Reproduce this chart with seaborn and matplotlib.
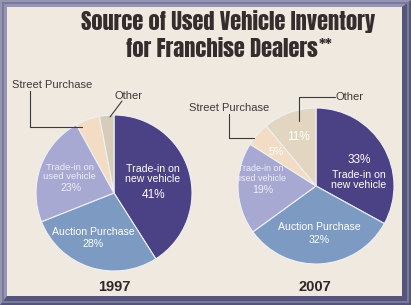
import matplotlib
matplotlib.use("Agg")
import matplotlib.pyplot as plt
import seaborn as sns
from matplotlib.patches import Rectangle, Polygon

sns.set_theme(style="white")
plt.rcParams['font.family'] = ['Liberation Sans', 'DejaVu Sans']

# ---- data ----
categories = ["Trade-in on\nnew vehicle", "Auction Purchase", "Trade-in on\nused vehicle",
              "Street Purchase", "Other"]
values_1997 = [41, 28, 23, 5, 3]
values_2007 = [33, 32, 19, 5, 11]
years = ["1997", "2007"]
title_lines = ["Source of Used Vehicle Inventory", "for Franchise Dealers"]

colors_1997 = ["#4b4185", "#7d9bc2", "#a8a9d3", "#f2dcc4", "#d6ccb8"]
colors_2007 = ["#4b4185", "#7d9bc2", "#a8a9d3", "#f2dcc4", "#e2d6c0"]

W, H = 411, 305
fig = plt.figure(figsize=(W / 100, H / 100), dpi=100)
fig.patch.set_facecolor("#6b6b8f")

ax = fig.add_axes([0, 0, 1, 1])
ax.set_xlim(0, W)
ax.set_ylim(0, H)
ax.set_aspect("equal")
ax.axis("off")

def Y(y):
    return H - y

# ---- frame ----
ax.add_patch(Rectangle((0, 0), W, H, facecolor="#55557c", edgecolor="none", zorder=0))
ax.add_patch(Polygon([(0, 0), (0, H), (W, H), (W - 9, Y(7)), (7, Y(7)), (7, 9)],
                     closed=True, facecolor="#9696b4", edgecolor="none", zorder=0.5))
ax.add_patch(Rectangle((3, 3), W - 6, H - 6, facecolor="none", edgecolor="#7a7a9c",
                       linewidth=1.5, zorder=0.6))
ax.add_patch(Rectangle((7, 9), W - 16, H - 16, facecolor="#f0e9e0", edgecolor="none", zorder=0.7))

# ---- title ----
tfont = ["Anton", "DejaVu Sans"]
tcol = "#332d2e"
ax.text(228.5, Y(22), title_lines[0], ha="center", va="center", fontsize=16.2,
        family=tfont, color=tcol, zorder=5)
t2 = ax.text(221.5, Y(49), title_lines[1], ha="center", va="center", fontsize=16.2,
             family=tfont, color=tcol, zorder=5)
fig.canvas.draw()
bb = t2.get_window_extent(renderer=fig.canvas.get_renderer())
x_end = bb.x1
ax.text(x_end + 1.5, Y(44), "**", ha="left", va="center", fontsize=11,
        family=tfont, color=tcol, zorder=5)

# ---- pies ----
wp = dict(edgecolor="#eef0f6", linewidth=0.8)
ax.pie(values_1997, colors=colors_1997, startangle=90, counterclock=False,
       center=(114, Y(193)), radius=78, wedgeprops=wp, frame=True)
ax.pie(values_2007, colors=colors_2007, startangle=90, counterclock=False,
       center=(316, Y(186)), radius=78, wedgeprops=wp, frame=True)
ax.set_xlim(0, W)
ax.set_ylim(0, H)
ax.axis("off")

fs = 7.6
# 1997 labels
ax.text(153, Y(174), categories[0], ha="center", va="center", fontsize=fs,
        color="white", linespacing=1.0, zorder=5)
ax.text(153, Y(195), f"{values_1997[0]}%", ha="center", va="center", fontsize=8.5,
        color="white", zorder=5)
ax.text(93, Y(232), categories[1], ha="center", va="center", fontsize=fs,
        color="white", zorder=5)
ax.text(93, Y(244), f"{values_1997[1]}%", ha="center", va="center", fontsize=fs,
        color="white", zorder=5)
ax.text(69.5, Y(172), categories[2], ha="center", va="center", fontsize=6.8,
        color="#eeeef8", linespacing=0.95, zorder=5)
ax.text(71, Y(188), f"{values_1997[2]}%", ha="center", va="center", fontsize=fs,
        color="#eeeef8", zorder=5)

# 2007 labels
ax.text(359, Y(160), f"{values_2007[0]}%", ha="center", va="center", fontsize=8.5,
        color="white", zorder=5)
ax.text(359, Y(180), categories[0], ha="center", va="center", fontsize=fs,
        color="white", linespacing=1.05, zorder=5)
ax.text(319, Y(227), categories[1], ha="center", va="center", fontsize=fs,
        color="white", zorder=5)
ax.text(319, Y(240), f"{values_2007[1]}%", ha="center", va="center", fontsize=fs,
        color="white", zorder=5)
ax.text(261, Y(173.5), categories[2], ha="center", va="center", fontsize=6.4,
        color="#eeeef8", linespacing=1.25, zorder=5)
ax.text(263, Y(190), f"{values_2007[2]}%", ha="center", va="center", fontsize=fs,
        color="#eeeef8", zorder=5)
ax.text(276, Y(152), f"{values_2007[3]}%", ha="center", va="center", fontsize=fs,
        color="white", zorder=5)
ax.text(298, Y(137), f"{values_2007[4]}%", ha="center", va="center", fontsize=8.5,
        color="white", zorder=5)

# ---- outside labels with leader lines ----
lc = "#3a3a3a"
ax.text(52, Y(85), categories[3], ha="center", va="center", fontsize=8, color=lc, zorder=5)
ax.plot([30, 30, 82], [Y(91), Y(127), Y(127)], color=lc, linewidth=0.8, zorder=5)
ax.text(128, Y(96), categories[4], ha="center", va="center", fontsize=8, color=lc, zorder=5)
ax.plot([122, 110], [Y(101), Y(117)], color=lc, linewidth=0.8, zorder=5)

ax.text(229, Y(108), categories[3], ha="center", va="center", fontsize=8, color=lc, zorder=5)
ax.plot([229, 229, 254], [Y(114), Y(138), Y(138)], color=lc, linewidth=0.8, zorder=5)
ax.text(349, Y(97), categories[4], ha="center", va="center", fontsize=8, color=lc, zorder=5)
ax.plot([335, 299, 299], [Y(97), Y(97), Y(121)], color=lc, linewidth=0.8, zorder=5)

# ---- years ----
ax.text(114, Y(287), years[0], ha="center", va="center", fontsize=10.5,
        fontweight="bold", color="#2b2728", zorder=5)
ax.text(315, Y(287), years[1], ha="center", va="center", fontsize=10.5,
        fontweight="bold", color="#2b2728", zorder=5)

fig.savefig("out.png", dpi=100, facecolor=fig.get_facecolor())
